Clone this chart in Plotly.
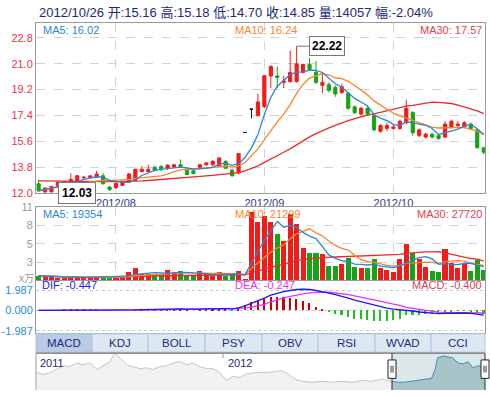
import plotly.graph_objects as go
import pandas as pd

W, H = 490, 396

# ---------------- data ----------------
opens = [12.65, 12.08, 12.09, 12.47, 12.74, 12.80, 12.67, 13.07, 13.10, 13.10,
         13.21, 12.42, 12.38, 12.54, 12.76, 12.88, 13.50, 13.50, 13.80, 13.85,
         13.73, 13.82, 13.97, 13.60, 13.55, 13.80, 13.97, 13.97, 13.89, 14.20,
         13.60, 13.40, 16.22, 17.84, 17.40, 18.00, 20.15, 20.15, 19.70, 19.75,
         19.75, 20.40, 20.95, 20.40, 19.50, 19.55, 19.35, 19.00, 18.95, 18.00,
         17.50, 17.90, 17.40, 16.30, 16.50, 16.50, 16.50, 16.90, 17.60, 16.00,
         15.90, 16.10, 16.00, 15.90, 16.60, 16.70, 16.60, 16.80, 16.40, 15.16]
highs = [12.92, 12.38, 12.50, 12.80, 12.85, 13.37, 13.25, 13.20, 13.25, 13.55,
         13.40, 12.50, 12.75, 12.85, 13.40, 13.70, 13.89, 13.95, 13.90, 13.95,
         14.00, 14.05, 14.34, 13.70, 13.65, 14.05, 14.15, 14.30, 14.50, 14.30,
         13.70, 14.75, 16.22, 17.84, 18.90, 20.17, 20.90, 20.80, 20.15, 21.90,
         22.22, 21.00, 21.40, 21.20, 20.30, 19.70, 19.50, 19.60, 19.00, 18.10,
         18.00, 18.00, 17.50, 16.80, 16.90, 16.80, 17.10, 18.50, 17.70, 16.50,
         16.20, 16.20, 16.10, 17.00, 17.10, 17.00, 17.00, 16.90, 16.50, 15.18]
lows = [12.10, 12.03, 12.05, 12.40, 12.70, 12.75, 12.60, 13.00, 13.05, 13.05,
        12.60, 12.15, 12.30, 12.50, 12.70, 12.85, 13.45, 13.45, 13.55, 13.50,
        13.60, 13.75, 13.75, 13.25, 13.30, 13.75, 13.90, 13.90, 13.85, 13.70,
        13.15, 13.30, 16.22, 17.20, 17.30, 17.90, 19.30, 19.30, 19.30, 19.70,
        19.70, 20.30, 20.50, 19.60, 18.95, 19.00, 18.70, 18.90, 17.80, 17.50,
        17.40, 17.40, 16.30, 16.20, 16.30, 16.40, 16.40, 16.80, 16.00, 15.90,
        15.80, 15.80, 15.70, 15.80, 16.50, 16.60, 16.50, 16.40, 15.10, 14.70]
closes = [12.16, 12.36, 12.47, 12.76, 12.78, 12.95, 13.21, 13.10, 13.20, 13.33,
          12.65, 12.25, 12.69, 12.81, 13.33, 13.66, 13.66, 13.66, 13.60, 13.70,
          13.95, 13.97, 13.82, 13.30, 13.37, 13.97, 14.10, 14.20, 14.45, 13.73,
          13.21, 14.75, 16.22, 17.84, 18.34, 20.17, 20.80, 20.05, 19.80, 20.40,
          21.00, 20.95, 20.60, 19.70, 19.70, 19.15, 18.90, 19.40, 17.90, 17.60,
          17.90, 17.50, 16.40, 16.70, 16.70, 16.60, 17.00, 17.90, 16.20, 16.40,
          16.10, 15.90, 15.80, 16.80, 17.00, 16.80, 16.90, 16.50, 15.16, 14.85]
volumes = [0.7, 0.6, 0.5, 0.4, 0.3, 0.5, 0.6, 0.3, 0.4, 0.5,
           0.6, 0.5, 0.6, 0.5, 1.2, 1.8, 1.0, 1.0, 0.8, 1.0,
           1.5, 1.3, 1.4, 0.8, 0.6, 1.4, 0.9, 0.7, 1.2, 0.6,
           1.1, 1.4, 0.1, 10.2, 8.7, 9.7, 8.8, 6.9, 5.9, 10.0,
           8.4, 4.85, 4.1, 4.1, 3.9, 2.2, 2.2, 2.5, 3.4, 2.0,
           1.9, 1.8, 3.2, 1.8, 1.5, 1.3, 3.2, 5.4, 4.1, 3.2,
           2.0, 1.45, 1.3, 4.7, 2.6, 1.8, 2.5, 1.45, 3.1, 1.5]
# MA30 of price before 30 visible sessions exist
ma30_head = [12.86, 12.85, 12.84, 12.83, 12.82, 12.81, 12.80, 12.80, 12.80, 12.80,
             12.80, 12.80, 12.80, 12.80, 12.81, 12.83, 12.85, 12.88, 12.91, 12.94,
             12.97, 13.00, 13.04, 13.08, 13.12, 13.16, 13.20, 13.24, 13.28]
# MACD lines
dif = [0.00, 0.00, 0.00, 0.00, 0.01, 0.02, 0.03, 0.04, 0.05, 0.06,
       0.03, 0.00, -0.01, -0.01, 0.02, 0.06, 0.09, 0.11, 0.12, 0.13,
       0.15, 0.16, 0.16, 0.13, 0.11, 0.13, 0.15, 0.17, 0.20, 0.18,
       0.14, 0.25, 0.45, 0.70, 0.90, 1.20, 1.50, 1.70, 1.85, 1.95,
       2.05, 2.07, 2.05, 1.95, 1.85, 1.70, 1.55, 1.40, 1.20, 1.00,
       0.85, 0.70, 0.50, 0.35, 0.22, 0.13, 0.08, 0.05, -0.05, -0.15,
       -0.22, -0.28, -0.30, -0.28, -0.25, -0.24, -0.25, -0.28, -0.36, -0.447]
dea = [0.00, 0.00, 0.00, 0.00, 0.00, 0.01, 0.01, 0.02, 0.02, 0.03,
       0.03, 0.03, 0.02, 0.02, 0.02, 0.03, 0.04, 0.05, 0.06, 0.07,
       0.09, 0.10, 0.11, 0.11, 0.11, 0.11, 0.12, 0.13, 0.14, 0.15,
       0.15, 0.17, 0.22, 0.32, 0.44, 0.60, 0.85, 1.05, 1.22, 1.37,
       1.52, 1.63, 1.72, 1.78, 1.80, 1.78, 1.72, 1.65, 1.55, 1.42,
       1.30, 1.17, 1.05, 0.90, 0.76, 0.62, 0.50, 0.30, 0.20, 0.08,
       -0.02, -0.10, -0.16, -0.19, -0.20, -0.21, -0.22, -0.23, -0.24, -0.247]

month_ticks = [12, 35, 55]
month_labels = ["2012/08", "2012/09", "2012/10"]
price_ticks = [12.0, 13.8, 15.6, 17.4, 19.2, 21.0, 22.8]
vol_tickvals = [2.75, 5.5, 8.25, 11]
vol_ticktext = ["3", "5", "8", "11"]
macd_tickvals = [-1.987, 0.0, 1.987]
macd_ticktext = ["-1.987", "0.000", "1.987"]

title_text = "2012/10/26 开:15.16 高:15.18 低:14.70 收:14.85 量:14057 幅:-2.04%"
price_legend = ["MA5: 16.02", "MA10: 16.24", "MA30: 17.57"]
vol_legend = ["MA5: 19354", "MA10: 21299", "MA30: 27720"]
macd_legend = ["DIF: -0.447", "DEA: -0.247", "MACD: -0.400"]
high_label = "22.22"
low_label = "12.03"
tabs = ["MACD", "KDJ", "BOLL", "PSY", "OBV", "RSI", "WVAD", "CCI"]

# navigator (days relative to 2012-01-01, price)
nav_days = [-222, -215, -206, -198, -191, -183, -175, -168, -159, -151, -144, -136, -130,
            -124, -116, -109, -100, -92, -85, -77, -68, -61, -53, -45, -38, -30, -21, -14,
            -6, 2, 9, 18, 24, 35, 47, 59, 67, 74, 83, 91, 103, 114, 126, 138, 150, 162,
            173, 185, 197, 204, 212, 221, 228, 236, 244, 248, 251, 257, 263, 269, 275,
            281, 287, 293, 299, 307]
nav_vals = [15.5, 14.9, 15.5, 16.8, 17.8, 17.5, 18.7, 18.1, 18.7, 16.5, 17.8, 19.1, 22.0,
            20.4, 18.1, 17.5, 16.8, 17.1, 16.5, 17.5, 17.8, 18.7, 19.1, 18.1, 18.7, 17.5,
            16.8, 16.8, 15.5, 12.9, 14.2, 13.9, 14.9, 15.5, 15.5, 15.8, 16.2, 15.2, 13.3,
            12.6, 12.3, 12.6, 12.3, 12.6, 12.3, 12.9, 12.6, 13.3, 12.6, 12.3, 12.3, 12.6,
            12.9, 13.3, 13.6, 16.5, 20.4, 21.0, 20.7, 20.4, 18.7, 18.4, 19.1, 17.1, 17.8, 17.5]
nav_sel_start = 197

# ---------------- derived ----------------
n = len(closes)
idx = list(range(n))
cs = pd.Series(closes)
ma5 = cs.rolling(5, min_periods=1).mean()
ma10 = cs.rolling(10, min_periods=1).mean()
ma30 = cs.rolling(30).mean()
ma30.iloc[:len(ma30_head)] = ma30_head
vs = pd.Series(volumes)
vma5 = vs.rolling(5, min_periods=1).mean()
vma10 = vs.rolling(10, min_periods=1).mean()
vma30 = vs.rolling(30, min_periods=1).mean()
hist = [2 * (a - b) for a, b in zip(dif, dea)]

RED = "#f41a1a"
GREEN = "#16a316"
BLUE = "#2f84d6"
ORANGE = "#f5862c"
MA30C = "#ec2a2a"
FONT = "Liberation Sans, Arial, Noto Sans CJK SC, sans-serif"

def fx(x):
    return x / W

def fy(y):
    return 1 - y / H

doji = [o == c for o, c in zip(opens, closes)]

fig = go.Figure()

def cand(mask, inc, dec):
    return go.Candlestick(
        x=[i for i in idx if mask[i]],
        open=[opens[i] for i in idx if mask[i]],
        high=[highs[i] for i in idx if mask[i]],
        low=[lows[i] for i in idx if mask[i]],
        close=[closes[i] for i in idx if mask[i]],
        increasing=dict(line=dict(color=inc, width=1), fillcolor=inc),
        decreasing=dict(line=dict(color=dec, width=1), fillcolor=dec),
        whiskerwidth=0, xaxis="x", yaxis="y", showlegend=False, hoverinfo="skip")

fig.add_trace(cand([not d for d in doji], RED, GREEN))
fig.add_trace(cand(doji, "#111111", "#111111"))
fig.add_trace(go.Scatter(x=idx, y=ma30, mode="lines", line=dict(color=MA30C, width=1.3), xaxis="x", yaxis="y"))
fig.add_trace(go.Scatter(x=idx, y=ma10, mode="lines", line=dict(color=ORANGE, width=1.3), xaxis="x", yaxis="y"))
fig.add_trace(go.Scatter(x=idx, y=ma5, mode="lines", line=dict(color=BLUE, width=1.3), xaxis="x", yaxis="y"))

vcolors = [RED if c >= o else GREEN for o, c in zip(opens, closes)]
fig.add_trace(go.Bar(x=idx, y=volumes, marker=dict(color=vcolors, line=dict(width=0)), width=0.78,
                     xaxis="x2", yaxis="y2"))
fig.add_trace(go.Scatter(x=idx, y=vma30, mode="lines", line=dict(color=MA30C, width=1.3), xaxis="x2", yaxis="y2"))
fig.add_trace(go.Scatter(x=idx, y=vma10, mode="lines", line=dict(color=ORANGE, width=1.3), xaxis="x2", yaxis="y2"))
fig.add_trace(go.Scatter(x=idx, y=vma5, mode="lines", line=dict(color=BLUE, width=1.3), xaxis="x2", yaxis="y2"))

hcolors = ["#c80000" if h >= 0 else "#22c022" for h in hist]
fig.add_trace(go.Bar(x=idx, y=hist, marker=dict(color=hcolors, line=dict(width=0)), width=0.25,
                     xaxis="x3", yaxis="y3"))
fig.add_trace(go.Scatter(x=idx, y=dea, mode="lines", line=dict(color="#f030f0", width=1.3), xaxis="x3", yaxis="y3"))
fig.add_trace(go.Scatter(x=idx, y=dif, mode="lines", line=dict(color="#1a1aee", width=1.3), xaxis="x3", yaxis="y3"))

# navigator
un = [i for i, d in enumerate(nav_days) if d <= nav_sel_start]
se = [i for i, d in enumerate(nav_days) if d >= nav_sel_start]
fig.add_trace(go.Scatter(x=[nav_days[i] for i in un], y=[nav_vals[i] for i in un], mode="lines",
                         line=dict(color="#c4c4c4", width=1), fill="tozeroy", fillcolor="#f2f2f2",
                         xaxis="x4", yaxis="y4"))
fig.add_trace(go.Scatter(x=[nav_days[i] for i in se], y=[nav_vals[i] for i in se], mode="lines",
                         line=dict(color="#3c8cc4", width=1), fill="tozeroy", fillcolor="#a9c4c9",
                         xaxis="x4", yaxis="y4"))

xr = [-0.4, 69.2]
dom_x = [fx(36), fx(485)]
axcommon = dict(showline=True, linecolor="#9a9a9a", mirror=True, zeroline=False, ticks="",
                fixedrange=True)
grid = dict(showgrid=True, gridcolor="#d2d2d2", griddash="dash", gridwidth=1)

shapes = []
annotations = []

def txt(x, y, s, color, size=11, xanchor="left", bold=False, **kw):
    annotations.append(dict(x=fx(x), y=fy(y), xref="paper", yref="paper", text=("<b>%s</b>" % s) if bold else s,
                            showarrow=False, xanchor=xanchor, yanchor="middle",
                            font=dict(family=FONT, size=size, color=color), **kw))

txt(37, 7, title_text, "#1d2a78", size=13)
txt(41, 25, price_legend[0], BLUE)
txt(233, 25, price_legend[1], ORANGE)
txt(484, 25, price_legend[2], "#e8404a", xanchor="right")
txt(41, 214, vol_legend[0], BLUE)
txt(233, 214, vol_legend[1], ORANGE)
txt(484, 214, vol_legend[2], "#e8404a", xanchor="right")
txt(40, 288, macd_legend[0], "#1a1aee")
txt(233, 288, macd_legend[1], "#ee30ee")
txt(484, 288, macd_legend[2], "#e0405a", xanchor="right")
txt(26, 281, "x万", "#999999", size=10, xanchor="center")

# high / low flags
annotations.append(dict(x=44.7, y=22.22, xref="x", yref="y", text="<b>%s</b>" % high_label, showarrow=False,
                        font=dict(family=FONT, size=12, color="#000"), bgcolor="#ffffff",
                        bordercolor="#777777", borderwidth=1, borderpad=2))
shapes.append(dict(type="line", xref="x", yref="y", x0=40, x1=42.2, y0=22.22, y1=22.22,
                   line=dict(color="#777777", width=1)))
annotations.append(dict(x=5.9, y=12.0, xref="x", yref="y", text="<b>%s</b>" % low_label, showarrow=False,
                        font=dict(family=FONT, size=12, color="#000"), bgcolor="#ffffff",
                        bordercolor="#777777", borderwidth=1, borderpad=3))

# tab bar
tab_edges = [36, 92, 148, 205, 262, 318, 375, 431, 485]
for k, name in enumerate(tabs):
    x0, x1 = tab_edges[k], tab_edges[k + 1]
    shapes.append(dict(type="rect", xref="paper", yref="paper", x0=fx(x0), x1=fx(x1), y0=fy(357), y1=fy(338),
                       fillcolor="#b9cbe5" if k == 0 else "#dee8f4", line=dict(color="#b2c2da", width=1)))
    txt((x0 + x1) / 2, 347.5, name, "#1c2a80", size=11.5, xanchor="center")

# navigator decorations
shapes.append(dict(type="rect", xref="paper", yref="paper", x0=fx(392), x1=fx(485), y0=0, y1=fy(358),
                   fillcolor="#dbe7e9", line=dict(width=0), layer="below"))
shapes.append(dict(type="line", xref="paper", yref="paper", x0=fx(36), x1=fx(485), y0=fy(358), y1=fy(358),
                   line=dict(color="#555555", width=1)))
shapes.append(dict(type="line", xref="paper", yref="paper", x0=fx(36), x1=fx(36), y0=0, y1=fy(358),
                   line=dict(color="#999999", width=1)))
shapes.append(dict(type="line", xref="paper", yref="paper", x0=fx(223), x1=fx(223), y0=fy(363), y1=fy(358),
                   line=dict(color="#999999", width=1)))
for hx in (392, 485):
    shapes.append(dict(type="line", xref="paper", yref="paper", x0=fx(hx), x1=fx(hx), y0=0, y1=fy(358),
                       line=dict(color="#333333", width=1)))
    shapes.append(dict(type="rect", xref="paper", yref="paper", x0=fx(hx - 4), x1=fx(hx + 4), y0=fy(384), y1=fy(365),
                       fillcolor="#ffffff", line=dict(color="#222222", width=1)))
    for dx in (-1, 1):
        shapes.append(dict(type="line", xref="paper", yref="paper", x0=fx(hx + dx), x1=fx(hx + dx),
                           y0=fy(378), y1=fy(371), line=dict(color="#333333", width=1)))
txt(38, 368, "2011", "#1d2a78", size=11)
txt(226, 368, "2012", "#1d2a78", size=11)

fig.update_layout(
    width=W, height=H, margin=dict(l=0, r=0, t=0, b=0),
    paper_bgcolor="#ffffff", plot_bgcolor="rgba(0,0,0,0)",
    showlegend=False, bargap=0, hovermode=False,
    font=dict(family=FONT, size=11),
    xaxis=dict(domain=dom_x, anchor="y", range=xr, tickvals=month_ticks, ticktext=month_labels,
               tickfont=dict(color="#1f3a93", size=11), rangeslider=dict(visible=False), **axcommon, **grid),
    yaxis=dict(domain=[fy(193), fy(18)], anchor="x", range=[12.0, 23.8], tickvals=price_ticks,
               ticktext=["%.1f" % v for v in price_ticks], tickfont=dict(color="#f0304a", size=11),
               **axcommon, **grid),
    xaxis2=dict(domain=dom_x, anchor="y2", range=xr, tickvals=month_ticks, showticklabels=False,
                **axcommon, **grid),
    yaxis2=dict(domain=[fy(283), fy(207.5)], anchor="x2", range=[0, 11], tickvals=vol_tickvals,
                ticktext=vol_ticktext, tickfont=dict(color="#9a9a9a", size=11), **axcommon, **grid),
    xaxis3=dict(domain=dom_x, anchor="y3", range=xr, showgrid=False, showticklabels=False, **axcommon),
    yaxis3=dict(domain=[fy(337), fy(284)], anchor="x3", range=[-2.18, 2.84], tickvals=macd_tickvals,
                ticktext=macd_ticktext, tickfont=dict(color="#2a8ad8", size=11), showgrid=True,
                gridcolor="#c8c8c8", griddash="dot", **axcommon),
    xaxis4=dict(domain=dom_x, anchor="y4", range=[-223, 307], showgrid=False, showticklabels=False,
                zeroline=False, showline=False, fixedrange=True),
    yaxis4=dict(domain=[0, fy(358)], anchor="x4", range=[9.72, 21.96], showgrid=False,
                showticklabels=False, zeroline=False, showline=False, fixedrange=True),
    shapes=shapes, annotations=annotations,
)

fig.write_html("out.html", config={"displayModeBar": False},
               post_script="document.body.style.margin='0px';document.body.style.overflow='hidden';")
